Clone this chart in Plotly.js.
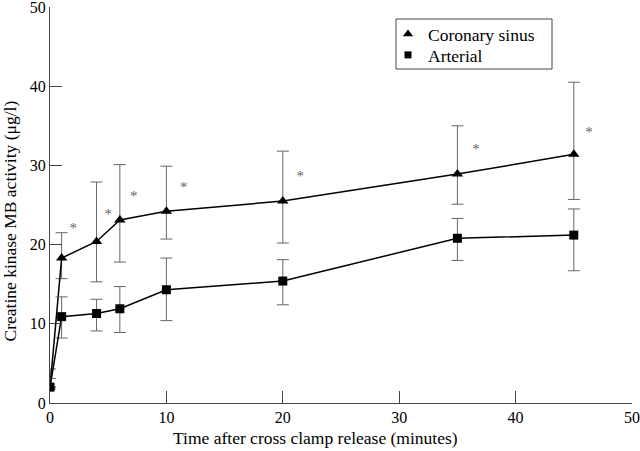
<!DOCTYPE html>
<html>
<head>
<meta charset="utf-8">
<script src="https://cdn.plot.ly/plotly-3.0.1.min.js"></script>
<style>html,body{margin:0;padding:0;background:#fff;}#chart{width:640px;height:451px;}</style>
</head>
<body>
<div id="chart"></div>
<script>
// Data
const times = [0, 1, 4, 6, 10, 20, 35, 45];
const coronary = [2.0, 18.3, 20.4, 23.1, 24.2, 25.5, 28.9, 31.4];
const coronaryUpper = [4.3, 21.5, 27.9, 30.1, 29.9, 31.8, 35.0, 40.5];
const coronaryLower = [2.0, 15.7, 15.3, 17.8, 20.7, 20.2, 25.1, 25.7];
const arterial = [2.0, 10.9, 11.3, 11.9, 14.3, 15.4, 20.8, 21.2];
const arterialUpper = [3.1, 13.4, 13.1, 14.7, 18.3, 18.1, 23.3, 24.5];
const arterialLower = [2.0, 8.2, 9.1, 8.9, 10.4, 12.4, 18.0, 16.7];
const starX = [2.0, 5.0, 7.2, 11.5, 21.5, 36.6, 46.3];
const starY = [21.9, 23.7, 26.0, 27.1, 28.5, 31.9, 34.1];
const tickValues = [0, 10, 20, 30, 40, 50];
const seriesNames = ['Coronary sinus', 'Arterial'];
const xTitle = 'Time after cross clamp release (minutes)';
const yTitle = 'Creatine kinase MB activity (μg/l)';

const up = (v, u) => v.map((x, i) => Math.max(0, u[i] - x));
const dn = (v, l) => v.map((x, i) => Math.max(0, x - l[i]));

const errStyle = {color: '#666', thickness: 1, width: 6};
const font = 'Liberation Serif, Times New Roman, serif';

// plot-area geometry (pixels)
const M = {l: 50, r: 8, t: 7, b: 48};
const W = 640, H = 451;
const pw = W - M.l - M.r, ph = H - M.t - M.b;
const px = (x) => (x - M.l) / pw;          // page px -> paper x
const py = (y) => (H - M.b - y) / ph;      // page px -> paper y

const traces = [
  {
    x: times, y: coronary, name: seriesNames[0], type: 'scatter', mode: 'lines+markers',
    line: {color: '#000', width: 1.5}, showlegend: false,
    marker: {symbol: 'triangle-up', size: 10, color: '#000'},
    error_y: Object.assign({type: 'data', symmetric: false, array: up(coronary, coronaryUpper), arrayminus: dn(coronary, coronaryLower)}, errStyle)
  },
  {
    x: times, y: arterial, name: seriesNames[1], type: 'scatter', mode: 'lines+markers',
    line: {color: '#000', width: 1.5}, showlegend: false,
    marker: {symbol: 'square', size: 9, color: '#000'},
    error_y: Object.assign({type: 'data', symmetric: false, array: up(arterial, arterialUpper), arrayminus: dn(arterial, arterialLower)}, errStyle)
  },
  {
    x: starX, y: starY, type: 'scatter', mode: 'text', text: starX.map(() => '*'),
    textfont: {family: font, size: 15, color: '#666'}, showlegend: false, hoverinfo: 'skip'
  },
  // legend entries (markers only, as in the reference)
  {x: [null], y: [null], name: seriesNames[0], type: 'scatter', mode: 'markers', legend: 'legend',
   marker: {symbol: 'triangle-up', size: 9, color: '#000'}},
  {x: [null], y: [null], name: seriesNames[1], type: 'scatter', mode: 'markers', legend: 'legend2',
   marker: {symbol: 'square', size: 7, color: '#000'}}
];

const axisCommon = {
  range: [0, 50], tickvals: tickValues,
  ticks: 'inside', ticklen: 12, tickcolor: '#444', tickwidth: 1,
  showline: true, linecolor: '#444', linewidth: 1,
  showgrid: false, zeroline: false, ticklabeloverflow: 'allow',
  tickfont: {family: font, size: 16, color: '#000'}
};

const legendCommon = {
  xanchor: 'left', yanchor: 'middle',
  borderwidth: 0, bgcolor: 'rgba(0,0,0,0)',
  font: {family: font, size: 17.5, color: '#000'},
  itemwidth: 30
};

const layout = {
  width: W, height: H,
  margin: M,
  paper_bgcolor: '#fff', plot_bgcolor: '#fff',
  font: {family: font, size: 16, color: '#000'},
  showlegend: true,
  legend: Object.assign({x: px(388), y: py(34)}, legendCommon),
  legend2: Object.assign({x: px(388), y: py(55)}, legendCommon),
  shapes: [{
    type: 'rect', xref: 'paper', yref: 'paper',
    x0: px(396), x1: px(552), y0: py(69), y1: py(19),
    line: {color: '#444', width: 1}, fillcolor: 'rgba(0,0,0,0)'
  }],
  annotations: [
    {text: xTitle, xref: 'paper', yref: 'paper', x: px(315), y: py(438),
     xanchor: 'center', yanchor: 'middle', showarrow: false, font: {family: font, size: 17.5}},
    {text: yTitle, xref: 'paper', yref: 'paper', x: px(9), y: py(221.5),
     xanchor: 'center', yanchor: 'middle', textangle: -90, showarrow: false, font: {family: font, size: 17.5}}
  ],
  xaxis: Object.assign({}, axisCommon),
  yaxis: Object.assign({}, axisCommon)
};

Plotly.newPlot('chart', traces, layout, {displayModeBar: false, staticPlot: true});
</script>
</body>
</html>
